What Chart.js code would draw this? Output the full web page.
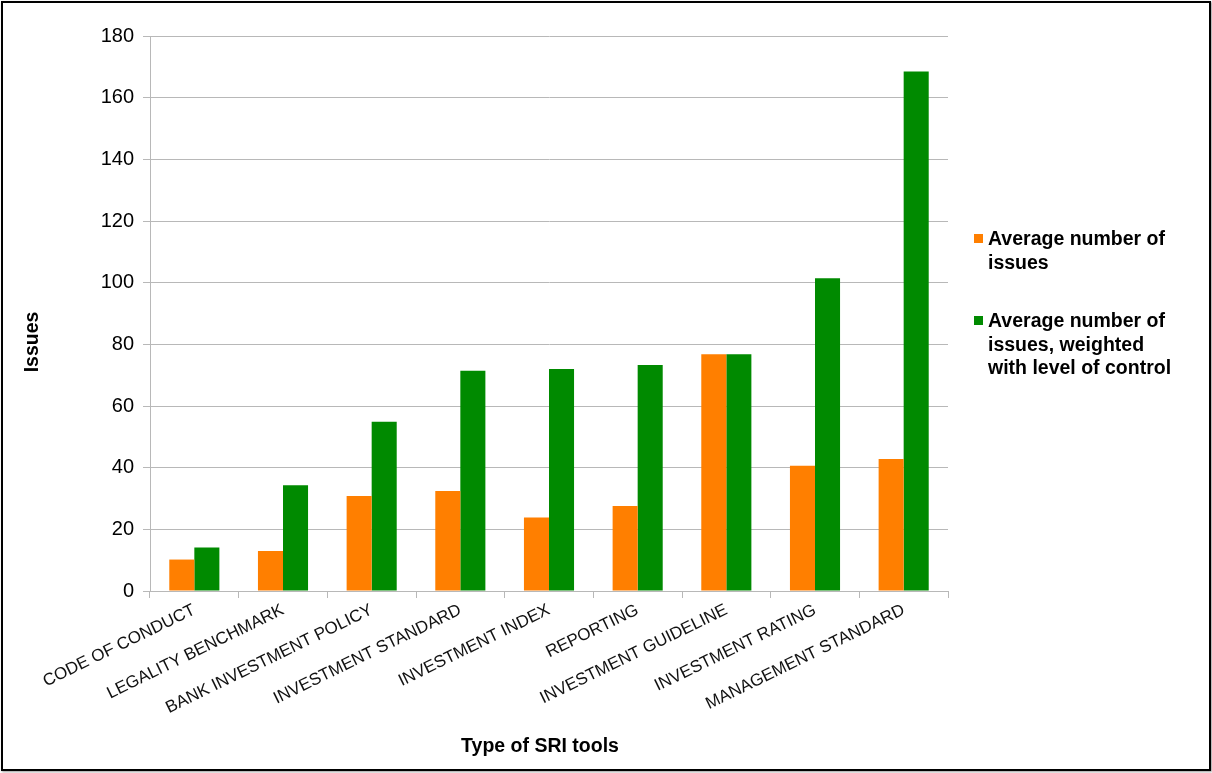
<!DOCTYPE html>
<html>
<head>
<meta charset="utf-8">
<script src="https://cdn.jsdelivr.net/npm/chart.js@4/dist/chart.umd.min.js"></script>
<style>
  html, body { margin: 0; padding: 0; background: #fff; }
  #frame {
    position: absolute; left: 1px; top: 1px; width: 1206px; height: 766px;
    border: 2px solid #000; box-shadow: 1px 1px 2px rgba(0,0,0,0.4);
    background: #fff;
  }
  #wrap { position: absolute; left: -3px; top: -3px; width: 1212px; height: 773px; }
  .legend { position: absolute; left: 974px; font: bold 19.5px "Liberation Sans", Arial, sans-serif; color: #000; line-height: 23.5px; }
  .legend .sw { position: absolute; left: 0; top: 7px; width: 9px; height: 9px; }
  .legend .tx { position: absolute; left: 14px; white-space: nowrap; }
</style>
</head>
<body>
<div id="frame">
  <div id="wrap">
    <canvas id="c" width="1212" height="773"></canvas>
    <div class="legend" style="top:227px"><span class="sw" style="background:#FF7F00"></span><span class="tx">Average number of<br>issues</span></div>
    <div class="legend" style="top:309px"><span class="sw" style="background:#008A00"></span><span class="tx">Average number of<br>issues, weighted<br>with level of control</span></div>
  </div>
</div>
<script>
// Categories of SRI tools
const categories = [
  "CODE OF CONDUCT", "LEGALITY BENCHMARK", "BANK INVESTMENT POLICY",
  "INVESTMENT STANDARD", "INVESTMENT INDEX", "REPORTING",
  "INVESTMENT GUIDELINE", "INVESTMENT RATING", "MANAGEMENT STANDARD"
];
// Average number of issues
const avgIssues = [10.2, 13.0, 30.8, 32.4, 23.8, 27.6, 76.8, 40.6, 42.8];
// Average number of issues, weighted with level of control
const weightedIssues = [14.1, 34.3, 54.9, 71.4, 72.0, 73.3, 76.8, 101.4, 168.5];
// Y axis ticks
const yTicks = [0, 20, 40, 60, 80, 100, 120, 140, 160, 180];

const seriesNames = ["Average number of issues", "Average number of issues, weighted with level of control"];
const xTitle = "Type of SRI tools";
const yTitle = "Issues";

const FONT = '"Liberation Sans", Arial, sans-serif';

// Axis titles drawn at fixed spots beside the plot
const axisTitles = {
  id: 'axisTitles',
  afterDraw(chart) {
    const ctx = chart.ctx;
    ctx.save();
    ctx.fillStyle = '#000';
    ctx.font = 'bold 19.5px ' + FONT;
    ctx.textAlign = 'center';
    ctx.textBaseline = 'middle';
    ctx.fillText(xTitle, 540, 747);
    ctx.translate(33, 342);
    ctx.rotate(-Math.PI / 2);
    ctx.fillText(yTitle, 0, 0);
    ctx.restore();
  }
};

new Chart(document.getElementById('c'), {
  type: 'bar',
  data: {
    labels: categories,
    datasets: [
      { label: seriesNames[0], data: avgIssues, backgroundColor: '#FF7F00', borderWidth: 0 },
      { label: seriesNames[1], data: weightedIssues, backgroundColor: '#008A00', borderWidth: 0 }
    ]
  },
  options: {
    responsive: false,
    animation: false,
    devicePixelRatio: 1,
    layout: { padding: { left: 0, top: 36, right: 264, bottom: 0 } },
    datasets: { bar: { categoryPercentage: 0.565, barPercentage: 1.0 } },
    plugins: {
      legend: { display: false },
      tooltip: { enabled: false }
    },
    scales: {
      x: {
        grid: { display: true, drawOnChartArea: false, drawTicks: true, tickLength: 7, color: '#b8b8b8', offset: true },
        border: { color: '#b8b8b8', width: 1 },
        ticks: {
          color: '#111', font: { family: FONT, size: 17 },
          minRotation: 26, maxRotation: 26, autoSkip: false, padding: 2
        },
        afterFit(scale) { scale.height = 182; }
      },
      y: {
        min: 0, max: 180,
        afterBuildTicks(scale) { scale.ticks = yTicks.map(v => ({ value: v })); },
        grid: { color: '#b8b8b8', tickLength: 7 },
        border: { color: '#b8b8b8', width: 1 },
        ticks: { color: '#000', font: { family: FONT, size: 20 }, padding: 9 },
        afterFit(scale) { scale.width = 150; }
      }
    }
  },
  plugins: [axisTitles]
});
</script>
</body>
</html>
